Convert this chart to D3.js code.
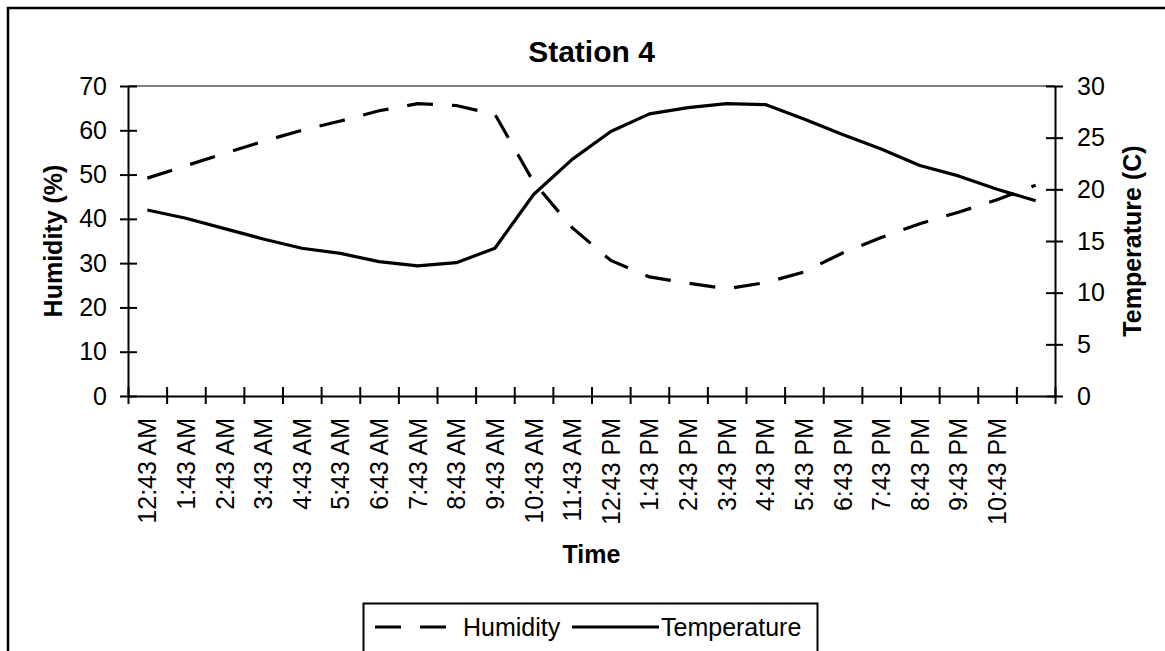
<!DOCTYPE html>
<html>
<head>
<meta charset="utf-8">
<script src="https://cdn.jsdelivr.net/npm/d3@7"></script>
<style>
    body { margin: 0; background: #fff; }
    svg { display: block; font-family: "Liberation Sans", Arial, sans-serif; }
</style>
</head>
<body>
<div class="chart"></div>
<script>
// last category has no label in the original
const times = ["12:43 AM", "1:43 AM", "2:43 AM", "3:43 AM", "4:43 AM", "5:43 AM", "6:43 AM", "7:43 AM",
    "8:43 AM", "9:43 AM", "10:43 AM", "11:43 AM", "12:43 PM", "1:43 PM", "2:43 PM", "3:43 PM",
    "4:43 PM", "5:43 PM", "6:43 PM", "7:43 PM", "8:43 PM", "9:43 PM", "10:43 PM", ""];
const humidity = [49.2, 52.0, 54.8, 57.5, 60.0, 62.1, 64.4, 66.0, 65.6, 63.6, 48.3, 38.0,
    30.6, 26.9, 25.5, 24.2, 25.6, 28.0, 32.3, 35.8, 38.9, 41.5, 44.3, 47.6];
const temperature = [18.0, 17.2, 16.2, 15.2, 14.3, 13.8, 13.0, 12.6, 12.9, 14.3, 19.5, 22.9,
    25.6, 27.3, 27.9, 28.3, 28.2, 26.8, 25.3, 23.9, 22.3, 21.3, 20.0, 18.9];
const humidityTicks = [0, 10, 20, 30, 40, 50, 60, 70];
const temperatureTicks = [0, 5, 10, 15, 20, 25, 30];

const width = 1165;
const height = 651;
const plotLeft = 128, plotRight = 1055, plotTop = 86, plotBottom = 396;
const dash = "26,19";

const svg = d3.select('.chart').append('svg')
    .attr('width', width)
    .attr('height', height);

// outer chart frame (runs off the right / bottom edge)
svg.append('rect')
    .attr('x', 8).attr('y', 8)
    .attr('width', 1200).attr('height', 700)
    .attr('fill', '#fff')
    .attr('stroke', '#000')
    .attr('stroke-width', 2.5);

const x = d3.scaleBand().domain(times).range([plotLeft, plotRight]).padding(0);
const xEdge = d3.scaleLinear().domain([0, times.length]).range([plotLeft, plotRight]);
const yL = d3.scaleLinear().domain([0, 70]).range([plotBottom, plotTop]);
const yR = d3.scaleLinear().domain([0, 30]).range([plotBottom, plotTop]);
const cx = d => x(d) + x.bandwidth() / 2;

// plot area top border
svg.append('line')
    .attr('x1', plotLeft).attr('x2', plotRight)
    .attr('y1', plotTop).attr('y2', plotTop)
    .attr('stroke', '#808080')
    .attr('stroke-width', 2);

const styleAxis = g => {
    g.selectAll('path.domain').attr('stroke', '#000').attr('stroke-width', 2);
    g.selectAll('.tick line').attr('stroke', '#000').attr('stroke-width', 2);
    g.selectAll('text').attr('fill', '#000').style('font-size', '25px');
};

// left axis
const gL = svg.append('g')
    .attr('transform', `translate(${plotLeft},0)`)
    .call(d3.axisLeft(yL).tickValues(humidityTicks).tickSizeInner(8).tickSizeOuter(0).tickPadding(13))
    .call(styleAxis);
gL.selectAll('.tick line').attr('x1', 9);

// right axis
const gR = svg.append('g')
    .attr('transform', `translate(${plotRight},0)`)
    .call(d3.axisRight(yR).tickValues(temperatureTicks).tickSizeInner(8).tickSizeOuter(0).tickPadding(14))
    .call(styleAxis);
gR.selectAll('.tick line').attr('x1', -9);

// category boundary ticks
const gE = svg.append('g')
    .attr('transform', `translate(0,${plotBottom})`)
    .call(d3.axisBottom(xEdge).tickValues(d3.range(times.length + 1)).tickFormat('').tickSizeInner(8).tickSizeOuter(0))
    .call(styleAxis);
gE.selectAll('.tick line').attr('y1', -9);

// category labels
const gX = svg.append('g')
    .attr('transform', `translate(0,${plotBottom})`)
    .call(d3.axisBottom(x).tickSize(0).tickPadding(0))
    .call(styleAxis);
gX.select('path.domain').remove();
gX.selectAll('text')
    .attr('transform', 'rotate(-90)')
    .attr('text-anchor', 'end')
    .attr('x', -22)
    .attr('y', 0)
    .attr('dy', '0.36em');

const line = d3.line().x((d, i) => cx(times[i]));

svg.append('path')
    .datum(humidity)
    .attr('d', line.y(d => yL(d)))
    .attr('fill', 'none')
    .attr('stroke', '#000')
    .attr('stroke-width', 3.2)
    .attr('stroke-dasharray', dash);

svg.append('path')
    .datum(temperature)
    .attr('d', line.y(d => yR(d)))
    .attr('fill', 'none')
    .attr('stroke', '#000')
    .attr('stroke-width', 3.2)
    .attr('stroke-linejoin', 'round');

// titles
svg.append('text')
    .attr('x', (plotLeft + plotRight) / 2).attr('y', 62)
    .attr('text-anchor', 'middle')
    .style('font-size', '30px').style('font-weight', 'bold')
    .text('Station 4');

svg.append('text')
    .attr('x', (plotLeft + plotRight) / 2).attr('y', 563)
    .attr('text-anchor', 'middle')
    .style('font-size', '25px').style('font-weight', 'bold')
    .text('Time');

svg.append('text')
    .attr('transform', `translate(53,${(plotTop + plotBottom) / 2}) rotate(-90)`)
    .attr('text-anchor', 'middle')
    .attr('dy', '0.35em')
    .style('font-size', '25px').style('font-weight', 'bold')
    .text('Humidity (%)');

svg.append('text')
    .attr('transform', `translate(1132,${(plotTop + plotBottom) / 2}) rotate(-90)`)
    .attr('text-anchor', 'middle')
    .attr('dy', '0.35em')
    .style('font-size', '25px').style('font-weight', 'bold')
    .text('Temperature (C)');

// legend
const legend = svg.append('g');
legend.append('rect')
    .attr('x', 363.5).attr('y', 603.5)
    .attr('width', 454).attr('height', 80)
    .attr('fill', '#fff')
    .attr('stroke', '#000')
    .attr('stroke-width', 2);

const legendItems = [
    {name: 'Humidity', x1: 375, x2: 446, tx: 463, dash: dash},
    {name: 'Temperature', x1: 572, x2: 659, tx: 661, dash: null}
];

legendItems.forEach(item => {
    legend.append('line')
        .attr('x1', item.x1).attr('x2', item.x2)
        .attr('y1', 627).attr('y2', 627)
        .attr('stroke', '#000')
        .attr('stroke-width', 3.2)
        .attr('stroke-dasharray', item.dash);
    legend.append('text')
        .attr('x', item.tx).attr('y', 627)
        .attr('dy', '0.35em')
        .style('font-size', '25px')
        .text(item.name);
});
</script>
</body>
</html>
